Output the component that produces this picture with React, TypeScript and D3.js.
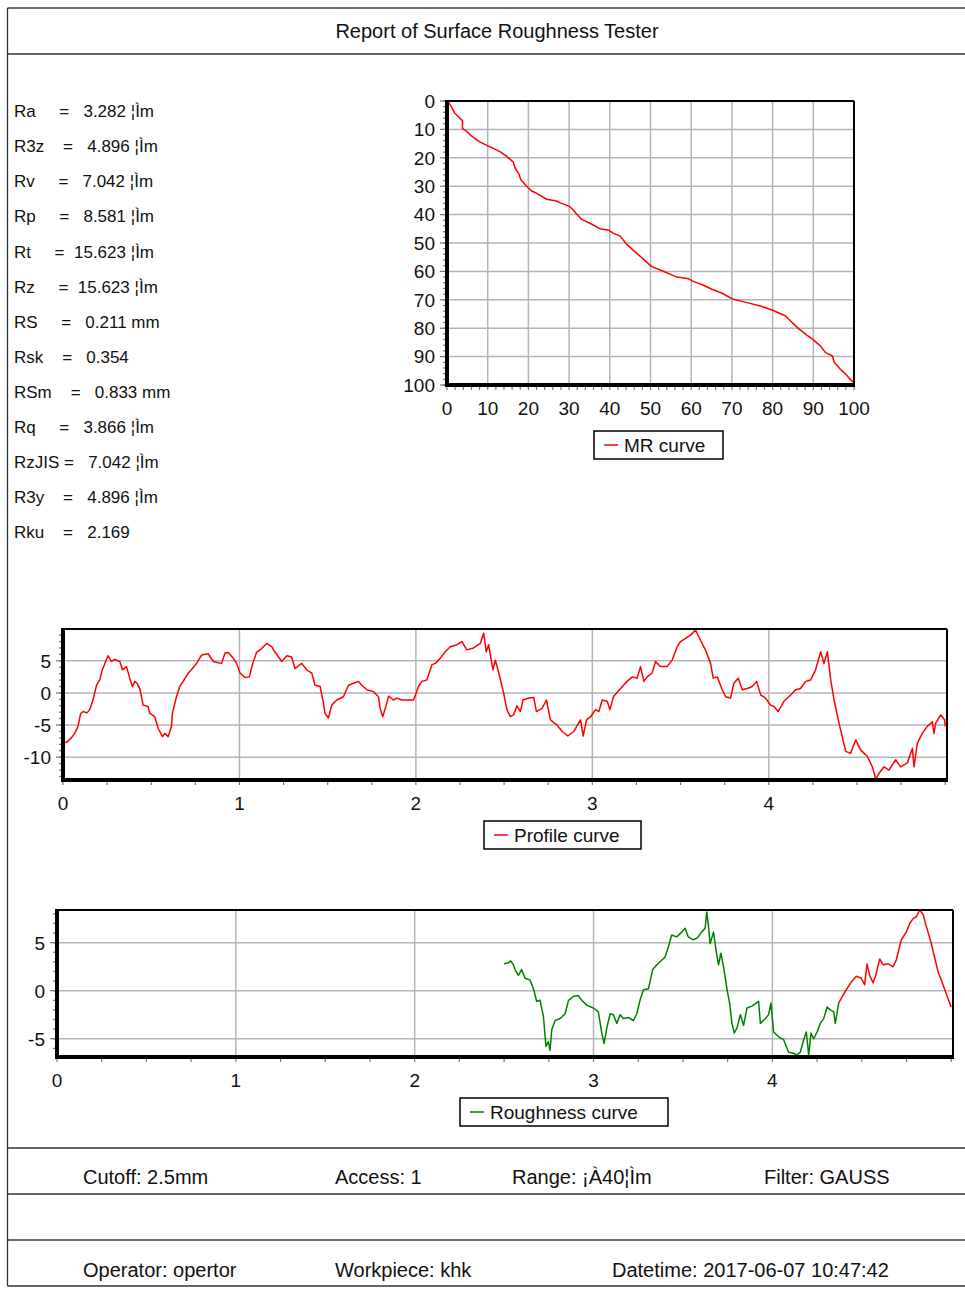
import React from "react";
import * as d3 from "d3";

const FONT = '"Liberation Sans", Arial, Helvetica, sans-serif';

// ---- report text ----
const reportTitle = "Report of Surface Roughness Tester";
const paramLines = [
  "Ra     =   3.282 ¦Ìm",
  "R3z    =   4.896 ¦Ìm",
  "Rv     =   7.042 ¦Ìm",
  "Rp     =   8.581 ¦Ìm",
  "Rt     =  15.623 ¦Ìm",
  "Rz     =  15.623 ¦Ìm",
  "RS     =   0.211 mm",
  "Rsk    =   0.354",
  "RSm    =   0.833 mm",
  "Rq     =   3.866 ¦Ìm",
  "RzJIS =   7.042 ¦Ìm",
  "R3y    =   4.896 ¦Ìm",
  "Rku    =   2.169",
];
const footerRow1 = ["Cutoff: 2.5mm", "Access: 1", "Range: ¡À40¦Ìm", "Filter: GAUSS"];
const footerRow2 = ["Operator: opertor", "Workpiece: khk", "Datetime: 2017-06-07 10:47:42"];

// ---- MR curve (x: material ratio %, y: depth %) ----
const mrX = [0, 0.2, 1, 1.9, 3.1, 3.8, 3.8, 4.8, 6, 8, 10.1, 13, 14.6, 16.3, 16.7, 17.7, 18.1, 19.5, 20.8, 22, 24.5, 26.9, 27.7, 30.2, 31, 31.9, 33.1, 35.6, 37.6, 39.7, 40.9, 42.5, 44.2, 45.8, 47.4, 48.7, 50.3, 52.4, 56.5, 59.4, 60.6, 62.6, 65.1, 67.6, 70, 73.7, 77, 79.9, 83.2, 84.8, 86.1, 88.5, 90.1, 91.8, 93, 94.7, 95.1, 96.7, 98, 99.2, 100];
const mrY = [0, 0, 1.8, 4.3, 5.9, 7, 9.7, 10.6, 12.3, 14.4, 15.8, 17.8, 19.4, 21.5, 23.5, 25.8, 27.6, 29.9, 31.7, 32.5, 34.6, 35.2, 35.8, 37.2, 38.4, 39.9, 41.7, 43.4, 45, 45.5, 46.6, 47.5, 50.5, 52.6, 54.6, 56.3, 58.3, 59.5, 62, 62.6, 63.6, 64.6, 66.3, 67.7, 69.6, 71, 72.2, 73.6, 75.7, 78, 79.8, 82.5, 84.2, 86.3, 88.6, 89.8, 91.9, 94.5, 96.2, 98.2, 99.2];
const mrTicks = [0, 10, 20, 30, 40, 50, 60, 70, 80, 90, 100];

// ---- profile curve (x: mm, y: um) ----
const profX = [0, 0.02, 0.047, 0.066, 0.085, 0.1, 0.114, 0.136, 0.151, 0.17, 0.19, 0.208, 0.223, 0.242, 0.255, 0.274, 0.293, 0.322, 0.337, 0.36, 0.378, 0.394, 0.407, 0.42, 0.435, 0.454, 0.482, 0.492, 0.52, 0.539, 0.564, 0.577, 0.596, 0.615, 0.62, 0.643, 0.662, 0.681, 0.71, 0.728, 0.757, 0.785, 0.823, 0.851, 0.88, 0.899, 0.918, 0.937, 0.965, 0.984, 1.003, 1.031, 1.056, 1.075, 1.097, 1.126, 1.154, 1.183, 1.2, 1.24, 1.268, 1.296, 1.315, 1.353, 1.381, 1.41, 1.428, 1.457, 1.476, 1.485, 1.504, 1.523, 1.552, 1.589, 1.618, 1.646, 1.675, 1.693, 1.722, 1.76, 1.788, 1.797, 1.812, 1.832, 1.845, 1.873, 1.892, 1.92, 1.949, 1.987, 2.015, 2.034, 2.062, 2.091, 2.11, 2.138, 2.166, 2.195, 2.233, 2.261, 2.289, 2.327, 2.365, 2.384, 2.399, 2.412, 2.437, 2.45, 2.47, 2.497, 2.516, 2.535, 2.554, 2.573, 2.592, 2.607, 2.64, 2.668, 2.683, 2.715, 2.74, 2.753, 2.763, 2.8, 2.829, 2.861, 2.895, 2.933, 2.948, 2.967, 2.99, 3.018, 3.037, 3.056, 3.084, 3.1, 3.121, 3.16, 3.197, 3.226, 3.254, 3.273, 3.292, 3.311, 3.339, 3.358, 3.386, 3.424, 3.452, 3.481, 3.5, 3.528, 3.556, 3.585, 3.613, 3.641, 3.67, 3.685, 3.708, 3.736, 3.755, 3.783, 3.802, 3.827, 3.85, 3.878, 3.906, 3.931, 3.954, 3.982, 4.01, 4.029, 4.053, 4.086, 4.114, 4.152, 4.18, 4.209, 4.237, 4.265, 4.294, 4.313, 4.332, 4.351, 4.37, 4.398, 4.436, 4.464, 4.493, 4.521, 4.559, 4.587, 4.606, 4.625, 4.653, 4.681, 4.719, 4.747, 4.785, 4.814, 4.823, 4.842, 4.87, 4.898, 4.927, 4.936, 4.946, 4.974, 4.997, 5];
const profY = [-7.6, -7.7, -7.0, -6.3, -5.2, -3.2, -2.9, -3.1, -2.6, -1.1, 1.2, 2.0, 3.6, 4.9, 5.8, 4.9, 5.2, 4.9, 3.6, 4.1, 2.3, 1.0, 1.8, 1.5, 0.7, -1.9, -2.1, -3.2, -3.7, -5.5, -6.8, -6.3, -6.8, -5.2, -3.2, -0.6, 1.0, 1.8, 3.1, 3.6, 4.6, 5.9, 6.1, 4.9, 4.7, 4.6, 6.2, 6.3, 5.4, 4.6, 3.1, 2.4, 2.5, 4.6, 6.3, 6.9, 7.7, 7.2, 6.4, 4.9, 5.8, 5.6, 3.8, 4.6, 3.6, 3.1, 1.2, 1.0, -1.6, -3.2, -3.9, -1.9, -1.1, -0.6, 1.2, 1.5, 1.8, 1.2, 0.5, 0.2, -0.6, -2.4, -3.7, -1.9, -0.5, -1.1, -0.8, -1.1, -1.1, -1.1, 1.0, 1.8, 2.0, 4.4, 4.6, 5.4, 6.4, 7.2, 7.5, 8.0, 6.7, 7.0, 7.7, 9.3, 6.4, 7.5, 3.6, 5.1, 3.1, 0, -2.6, -3.7, -3.4, -2.0, -2.9, -1.1, -0.8, -0.7, -2.9, -2.4, -1.1, -2.9, -4.2, -5.0, -6.0, -6.7, -6.0, -4.2, -6.7, -4.2, -3.7, -2.6, -2.9, -1.1, -1.3, -2.6, -0.5, 0.7, 1.8, 2.5, 2.3, 4.1, 1.8, 2.5, 3.1, 4.9, 4.1, 4.1, 5.1, 7.2, 8.0, 8.5, 9.0, 9.8, 8.2, 6.7, 4.6, 2.3, 2.5, 0.5, -0.6, -0.8, 1.5, 2.3, 0.5, 0.7, 1.0, 1.8, -0.3, -0.8, -1.9, -2.1, -2.9, -1.3, -0.6, 0.5, 0.7, 1.8, 2.0, 3.6, 6.4, 4.6, 6.4, 2.0, -1.1, -4.7, -9.1, -9.4, -7.3, -8.9, -9.9, -11.5, -13.4, -12.5, -11.5, -12.0, -10.4, -11.5, -10.9, -8.6, -11.5, -7.8, -6.3, -5.2, -4.5, -6.3, -4.7, -3.4, -4.2, -5.2];

// ---- roughness curve (green part, then red part) ----
const roughX = [2.5, 2.524, 2.537, 2.552, 2.561, 2.58, 2.598, 2.617, 2.645, 2.664, 2.682, 2.701, 2.72, 2.734, 2.747, 2.757, 2.766, 2.785, 2.813, 2.841, 2.86, 2.887, 2.915, 2.934, 2.962, 2.999, 3.027, 3.046, 3.059, 3.074, 3.093, 3.111, 3.13, 3.149, 3.167, 3.195, 3.223, 3.242, 3.26, 3.279, 3.307, 3.331, 3.354, 3.382, 3.4, 3.419, 3.437, 3.465, 3.493, 3.512, 3.53, 3.558, 3.581, 3.6, 3.624, 3.633, 3.643, 3.652, 3.671, 3.686, 3.699, 3.712, 3.727, 3.746, 3.761, 3.774, 3.787, 3.802, 3.821, 3.839, 3.858, 3.886, 3.923, 3.933, 3.961, 3.979, 3.992, 4.007, 4.035, 4.063, 4.091, 4.119, 4.137, 4.156, 4.175, 4.19, 4.203, 4.216, 4.231, 4.25, 4.268, 4.287, 4.306, 4.324, 4.343, 4.352, 4.371];
const roughY = [2.8, 2.9, 3.1, 2.7, 2.2, 1.6, 2.2, 1.3, 1.1, 0.2, -1.1, -1.0, -2.7, -5.8, -5.3, -6.2, -4.1, -3.1, -2.9, -2.4, -1.0, -0.6, -0.5, -1.0, -1.5, -1.8, -2.2, -4.4, -5.5, -3.9, -2.4, -2.5, -3.4, -2.5, -2.9, -2.8, -3.1, -2.4, -1.0, 0.1, 0.2, 2.2, 2.7, 3.2, 3.5, 4.6, 5.8, 5.6, 6.1, 6.5, 5.6, 5.3, 5.5, 6.0, 6.5, 8.2, 6.7, 4.9, 6.1, 4.1, 2.7, 3.9, 2.5, 0.2, -1.3, -3.4, -4.4, -3.9, -2.5, -3.6, -1.8, -1.6, -1.1, -3.4, -2.9, -2.5, -1.3, -4.3, -4.8, -5.1, -6.4, -6.5, -6.7, -6.4, -5.1, -4.3, -6.7, -4.4, -5.0, -4.3, -3.4, -2.9, -1.7, -2.0, -2.2, -3.4, -1.3];
const roughRedX = [4.371, 4.385, 4.413, 4.441, 4.469, 4.497, 4.516, 4.529, 4.544, 4.563, 4.581, 4.6, 4.619, 4.647, 4.675, 4.693, 4.721, 4.749, 4.768, 4.787, 4.805, 4.824, 4.843, 4.861, 4.889, 4.908, 4.926, 4.945, 4.964, 4.982, 5];
const roughRedY = [-1.3, -0.8, 0.1, 0.9, 1.5, 1.3, 0.6, 2.8, 1.6, 0.8, 1.8, 3.3, 2.7, 2.8, 2.5, 3.2, 5.3, 6.1, 7.0, 7.5, 7.7, 8.4, 7.9, 6.7, 4.9, 3.4, 2.0, 1.1, 0.1, -0.8, -1.7];

const lengthTicks = [0, 1, 2, 3, 4];

type Series = { xs: number[]; ys: number[]; color: string };

type PlotProps = {
  left: number; top: number; width: number; height: number;
  xDomain: [number, number]; yDomain: [number, number];
  xMajor: number[]; xLabels: number[]; xMinor: number[];
  yMajor: number[]; yMinor: number[];
  series: Series[];
  legend: { x: number; y: number; w: number; label: string; color: string };
};

function Plot(p: PlotProps) {
  const x = d3.scaleLinear().domain(p.xDomain).range([p.left, p.left + p.width]);
  const y = d3.scaleLinear().domain(p.yDomain).range([p.top + p.height, p.top]);
  const bottom = p.top + p.height;
  const right = p.left + p.width;
  const path = (s: Series) =>
    d3.line<number>().x((d) => x(d)).y((_, i) => y(s.ys[i]))(s.xs) || "";
  return (
    <g>
      {/* grid */}
      {p.xMajor.map((t) => (
        <line key={"gx" + t} x1={x(t)} x2={x(t)} y1={p.top} y2={bottom} stroke="#b4b4b4" strokeWidth={1.5} />
      ))}
      {p.yMajor.map((t) => (
        <line key={"gy" + t} x1={p.left} x2={right} y1={y(t)} y2={y(t)} stroke="#b4b4b4" strokeWidth={1.5} />
      ))}
      {/* minor + major ticks */}
      {p.yMinor.map((t) => (
        <line key={"ym" + t} x1={p.left - 4} x2={p.left} y1={y(t)} y2={y(t)} stroke="#777" strokeWidth={1.2} />
      ))}
      {p.yMajor.map((t) => (
        <line key={"yM" + t} x1={p.left - 7} x2={p.left} y1={y(t)} y2={y(t)} stroke="#777" strokeWidth={1.2} />
      ))}
      {p.xMinor.map((t) => (
        <line key={"xm" + t} x1={x(t)} x2={x(t)} y1={bottom} y2={bottom + 5} stroke="#777" strokeWidth={1.2} />
      ))}
      {/* curves */}
      {p.series.map((s, i) => (
        <path key={"s" + i} d={path(s)} fill="none" stroke={s.color} strokeWidth={1.5} strokeLinejoin="round" />
      ))}
      {/* frame */}
      <line x1={p.left} x2={right} y1={p.top} y2={p.top} stroke="#000" strokeWidth={2} />
      <line x1={right} x2={right} y1={p.top} y2={bottom} stroke="#000" strokeWidth={2} />
      <line x1={p.left} x2={p.left} y1={p.top - 1} y2={bottom + 2} stroke="#000" strokeWidth={4} />
      <line x1={p.left - 2} x2={right + 1} y1={bottom} y2={bottom} stroke="#000" strokeWidth={4} />
      {/* labels */}
      {p.yMajor.map((t) => (
        <text key={"yl" + t} x={p.left - 12} y={y(t)} dy="0.36em" textAnchor="end" fontSize={19}>{t}</text>
      ))}
      {p.xLabels.map((t) => (
        <text key={"xl" + t} x={x(t)} y={bottom + 23} dy="0.36em" textAnchor="middle" fontSize={19}>{t}</text>
      ))}
      {/* legend */}
      <rect x={p.legend.x} y={p.legend.y} width={p.legend.w} height={28} fill="#fff" stroke="#000" strokeWidth={1.5} />
      <line x1={p.legend.x + 10} x2={p.legend.x + 24} y1={p.legend.y + 14} y2={p.legend.y + 14} stroke={p.legend.color} strokeWidth={1.5} />
      <text x={p.legend.x + 30} y={p.legend.y + 14} dy="0.36em" fontSize={19}>{p.legend.label}</text>
    </g>
  );
}

export default function App() {
  const W = 965;
  const H = 1289;
  const frameL = 7.5;
  const frameR = 990;
  const hLines = [8, 54, 1148, 1194, 1240, 1286];
  const row1X = [83, 335, 512, 764];
  const row2X = [83, 335, 612];

  return (
    <svg width={W} height={H} style={{ position: "absolute", left: 0, top: 0, background: "#fff" }}
      fontFamily={FONT} fill="#111">
      <rect x={0} y={0} width={W} height={H} fill="#fff" />
      {/* page frame */}
      <line x1={frameL} x2={frameL} y1={8} y2={1286} stroke="#333" strokeWidth={1.3} />
      {hLines.map((v) => (
        <line key={v} x1={frameL} x2={frameR} y1={v} y2={v} stroke="#333" strokeWidth={1.3} />
      ))}
      <text x={497} y={31} dy="0.36em" textAnchor="middle" fontSize={20}>{reportTitle}</text>

      {/* parameter list */}
      {paramLines.map((s, i) => (
        <text key={s} x={14} y={111 + i * 35.1} dy="0.36em" fontSize={17} style={{ whiteSpace: "pre" }}>{s}</text>
      ))}

      <Plot left={447} top={101} width={407} height={284}
        xDomain={[0, 100]} yDomain={[100, 0]}
        xMajor={mrTicks} xLabels={mrTicks} xMinor={d3.range(0, 100.01, 2)}
        yMajor={mrTicks} yMinor={d3.range(0, 100.01, 2)}
        series={[{ xs: mrX, ys: mrY, color: "#ff0000" }]}
        legend={{ x: 594, y: 431, w: 129, label: "MR curve", color: "#ff0000" }} />

      <Plot left={63} top={629} width={884} height={151}
        xDomain={[0, 5.01]} yDomain={[-13.55, 9.95]}
        xMajor={lengthTicks} xLabels={lengthTicks} xMinor={d3.range(0, 5.01, 0.25)}
        yMajor={[-10, -5, 0, 5]} yMinor={d3.range(-13, 10, 1)}
        series={[{ xs: profX, ys: profY, color: "#ff0000" }]}
        legend={{ x: 484, y: 821, w: 157, label: "Profile curve", color: "#ff0000" }} />

      <Plot left={57} top={910} width={896} height={147}
        xDomain={[0, 5.01]} yDomain={[-6.9, 8.4]}
        xMajor={lengthTicks} xLabels={lengthTicks} xMinor={d3.range(0, 5.01, 0.25)}
        yMajor={[-5, 0, 5]} yMinor={d3.range(-6, 9, 1)}
        series={[
          { xs: roughX, ys: roughY, color: "#008000" },
          { xs: roughRedX, ys: roughRedY, color: "#ff0000" },
        ]}
        legend={{ x: 460, y: 1098, w: 208, label: "Roughness curve", color: "#008000" }} />

      {/* footer */}
      {footerRow1.map((s, i) => (
        <text key={s} x={row1X[i]} y={1177} dy="0.36em" fontSize={20}>{s}</text>
      ))}
      {footerRow2.map((s, i) => (
        <text key={s} x={row2X[i]} y={1270} dy="0.36em" fontSize={20}>{s}</text>
      ))}
    </svg>
  );
}
